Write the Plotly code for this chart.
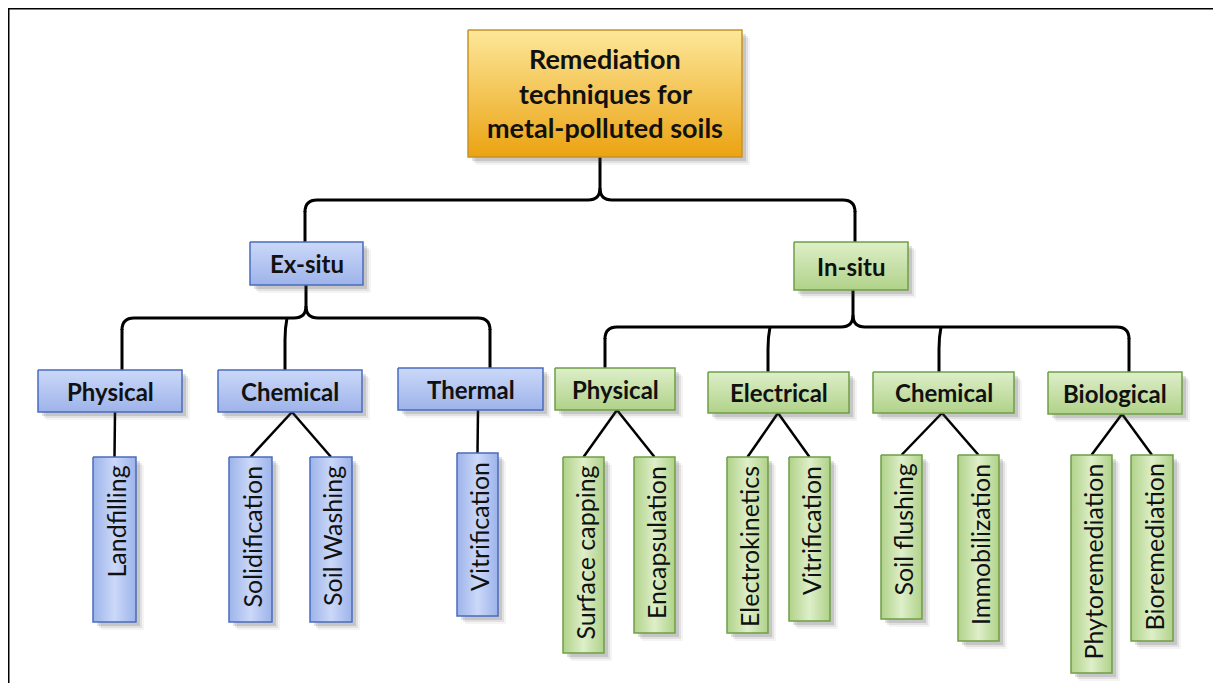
import plotly.graph_objects as go

W, H = 1221, 691
PAGE_PAD = 8  # default body margin of the written html page

# ---- labels (tree content) ----
ROOT_LINES = ["Remediation", "techniques for", "metal-polluted soils"]
BRANCHES = ["Ex-situ", "In-situ"]
EX_GROUPS = ["Physical", "Chemical", "Thermal"]
IN_GROUPS = ["Physical", "Electrical", "Chemical", "Biological"]
EX_LEAVES = ["Landfilling", "Solidification", "Soil Washing", "Vitrification"]
EX_LEAF_PARENT = [0, 1, 1, 2]
IN_LEAVES = ["Surface capping", "Encapsulation", "Electrokinetics", "Vitrification",
             "Soil flushing", "Immobilization", "Phytoremediation", "Bioremediation"]
IN_LEAF_PARENT = [0, 0, 1, 1, 2, 2, 3, 3]

# ---- box geometry, pixels (x0, y0, x1, y1) ----
ROOT_BOX = (468, 30, 742, 157)
ROOT_LINE_Y = [58, 93, 127]
BRANCH_BOXES = [(250, 242, 363, 285), (794, 242, 908, 290)]
EX_GROUP_BOXES = [(38, 370, 182, 412), (218, 370, 362, 412), (398, 368, 543, 410)]
IN_GROUP_BOXES = [(555, 368, 675, 410), (708, 372, 849, 413),
                  (873, 372, 1014, 413), (1048, 372, 1182, 414)]
EX_LEAF_BOXES = [(93, 457, 136, 622), (229, 457, 272, 622),
                 (310, 457, 352, 622), (457, 453, 498, 616)]
IN_LEAF_BOXES = [(563, 457, 604, 653), (634, 457, 675, 633), (727, 457, 768, 633),
                 (789, 457, 830, 621), (881, 455, 922, 619), (958, 455, 999, 641),
                 (1071, 455, 1112, 673), (1131, 455, 1173, 641)]

BLUE = {"top": "#cbd8f8", "bot": "#9db3ea", "edge": "#4a6cbf"}
GREEN = {"top": "#deefc9", "bot": "#b0d289", "edge": "#6f9f45"}
GOLD = {"top": "#fde79a", "bot": "#eba312", "edge": "#c89326"}
FONT = "Lato"

fig = go.Figure()
shapes = []
annotations = []


def add_box(box, pal, horizontal=False):
    x0, y0, x1, y1 = box
    # soft drop shadow
    for off, a in ((8, 0.06), (6, 0.10), (4, 0.16)):
        shapes.append(dict(type="rect", x0=x0 + off, y0=y0 + off, x1=x1 + off, y1=y1 + off,
                           line=dict(width=0), fillcolor=f"rgba(60,60,60,{a})", layer="below"))
    if horizontal:
        scale = [[0, pal["bot"]], [0.5, pal["top"]], [1, pal["bot"]]]
        kind = "horizontal"
    else:
        # y axis is reversed, so 0 is the bottom edge on screen
        scale = [[0, pal["bot"]], [1, pal["top"]]]
        kind = "vertical"
    fig.add_trace(go.Scatter(
        x=[x0, x1, x1, x0, x0], y=[y0, y0, y1, y1, y0],
        mode="lines", fill="toself", fillgradient=dict(type=kind, colorscale=scale),
        line=dict(color=pal["edge"], width=1.5),
        hoverinfo="skip", showlegend=False,
    ))


def add_label(box, text, size=24):
    x0, y0, x1, y1 = box
    annotations.append(dict(
        x=(x0 + x1) / 2, y=(y0 + y1) / 2, text=f"<b>{text}</b>",
        showarrow=False, xanchor="center", yanchor="middle",
        font=dict(family=FONT, size=size, color="#111111"),
    ))


def add_leaf_label(box, text):
    x0, y0, x1, y1 = box
    annotations.append(dict(
        x=(x0 + x1) / 2 + 1, y=y0 + 7, text=text, textangle=-90,
        showarrow=False, xanchor="center", yanchor="top",
        font=dict(family=FONT, size=25, color="#111111"),
    ))


def line_path(path, width=3):
    shapes.append(dict(type="path", path=path, line=dict(color="black", width=width),
                       layer="below"))


def brace(stem_x, top_y, bar_y, drops, r=12):
    """Bracket from a parent stem out to child drops (list of (x, bottom_y))."""
    xs = [d[0] for d in drops]
    left, right = min(xs), max(xs)
    line_path(f"M {stem_x},{top_y} L {stem_x},{bar_y - r} "
              f"Q {stem_x},{bar_y} {stem_x - r},{bar_y} L {left + r},{bar_y} "
              f"Q {left},{bar_y} {left},{bar_y + r}")
    line_path(f"M {stem_x},{bar_y - r} Q {stem_x},{bar_y} {stem_x + r},{bar_y} "
              f"L {right - r},{bar_y} Q {right},{bar_y} {right},{bar_y + r}")
    for x, yb in drops:
        if x in (left, right):
            line_path(f"M {x},{bar_y + r - 1} L {x},{yb}")
        else:
            line_path(f"M {x},{bar_y} Q {x - 2},{bar_y + 10} {x - 2},{bar_y + 22} L {x - 2},{yb}")


def center_top(box):
    return ((box[0] + box[2]) / 2, box[1])


# ---- connectors ----
brace(600, ROOT_BOX[3], 200, [(305, BRANCH_BOXES[0][1]), (855, BRANCH_BOXES[1][1])])
brace(306, BRANCH_BOXES[0][3], 318,
      [(122, EX_GROUP_BOXES[0][1]), (287, EX_GROUP_BOXES[1][1]), (490, EX_GROUP_BOXES[2][1])])
brace(853, BRANCH_BOXES[1][3], 327,
      [(605, IN_GROUP_BOXES[0][1]), (770, IN_GROUP_BOXES[1][1]),
       (941, IN_GROUP_BOXES[2][1]), (1129, IN_GROUP_BOXES[3][1])])

EX_APEX_X = [115, 292, 478]
IN_APEX_X = [617, 778, 942, 1122]
for leaf, p in zip(EX_LEAF_BOXES, EX_LEAF_PARENT):
    cx, ty = center_top(leaf)
    line_path(f"M {EX_APEX_X[p]},{EX_GROUP_BOXES[p][3]} L {cx},{ty}", width=2.5)
for leaf, p in zip(IN_LEAF_BOXES, IN_LEAF_PARENT):
    cx, ty = center_top(leaf)
    line_path(f"M {IN_APEX_X[p]},{IN_GROUP_BOXES[p][3]} L {cx},{ty}", width=2.5)

# ---- boxes ----
add_box(ROOT_BOX, GOLD)
for ln, y in zip(ROOT_LINES, ROOT_LINE_Y):
    annotations.append(dict(x=(ROOT_BOX[0] + ROOT_BOX[2]) / 2, y=y, text=f"<b>{ln}</b>",
                            showarrow=False, xanchor="center", yanchor="middle",
                            font=dict(family=FONT, size=27, color="#111111")))

add_box(BRANCH_BOXES[0], BLUE)
add_label(BRANCH_BOXES[0], BRANCHES[0])
add_box(BRANCH_BOXES[1], GREEN)
add_label(BRANCH_BOXES[1], BRANCHES[1])

for b, t in zip(EX_GROUP_BOXES, EX_GROUPS):
    add_box(b, BLUE)
    add_label(b, t)
for b, t in zip(IN_GROUP_BOXES, IN_GROUPS):
    add_box(b, GREEN)
    add_label(b, t)
for b, t in zip(EX_LEAF_BOXES, EX_LEAVES):
    add_box(b, BLUE, horizontal=True)
    add_leaf_label(b, t)
for b, t in zip(IN_LEAF_BOXES, IN_LEAVES):
    add_box(b, GREEN, horizontal=True)
    add_leaf_label(b, t)

# image frame (only top and left edges are visible in the source)
shapes.append(dict(type="line", xref="paper", yref="paper", x0=0, x1=1, y0=1, y1=1,
                   line=dict(color="black", width=3)))
shapes.append(dict(type="line", xref="paper", yref="paper", x0=0, x1=0, y0=0, y1=1,
                   line=dict(color="black", width=3)))

fig.update_layout(
    width=W - 2 * PAGE_PAD, height=H - 2 * PAGE_PAD,
    margin=dict(l=0, r=0, t=0, b=0),
    paper_bgcolor="white", plot_bgcolor="white",
    xaxis=dict(range=[PAGE_PAD, W - PAGE_PAD], visible=False, fixedrange=True),
    yaxis=dict(range=[H - PAGE_PAD, PAGE_PAD], visible=False, fixedrange=True),
    shapes=shapes, annotations=annotations, showlegend=False,
)

fig.write_html("out.html")
